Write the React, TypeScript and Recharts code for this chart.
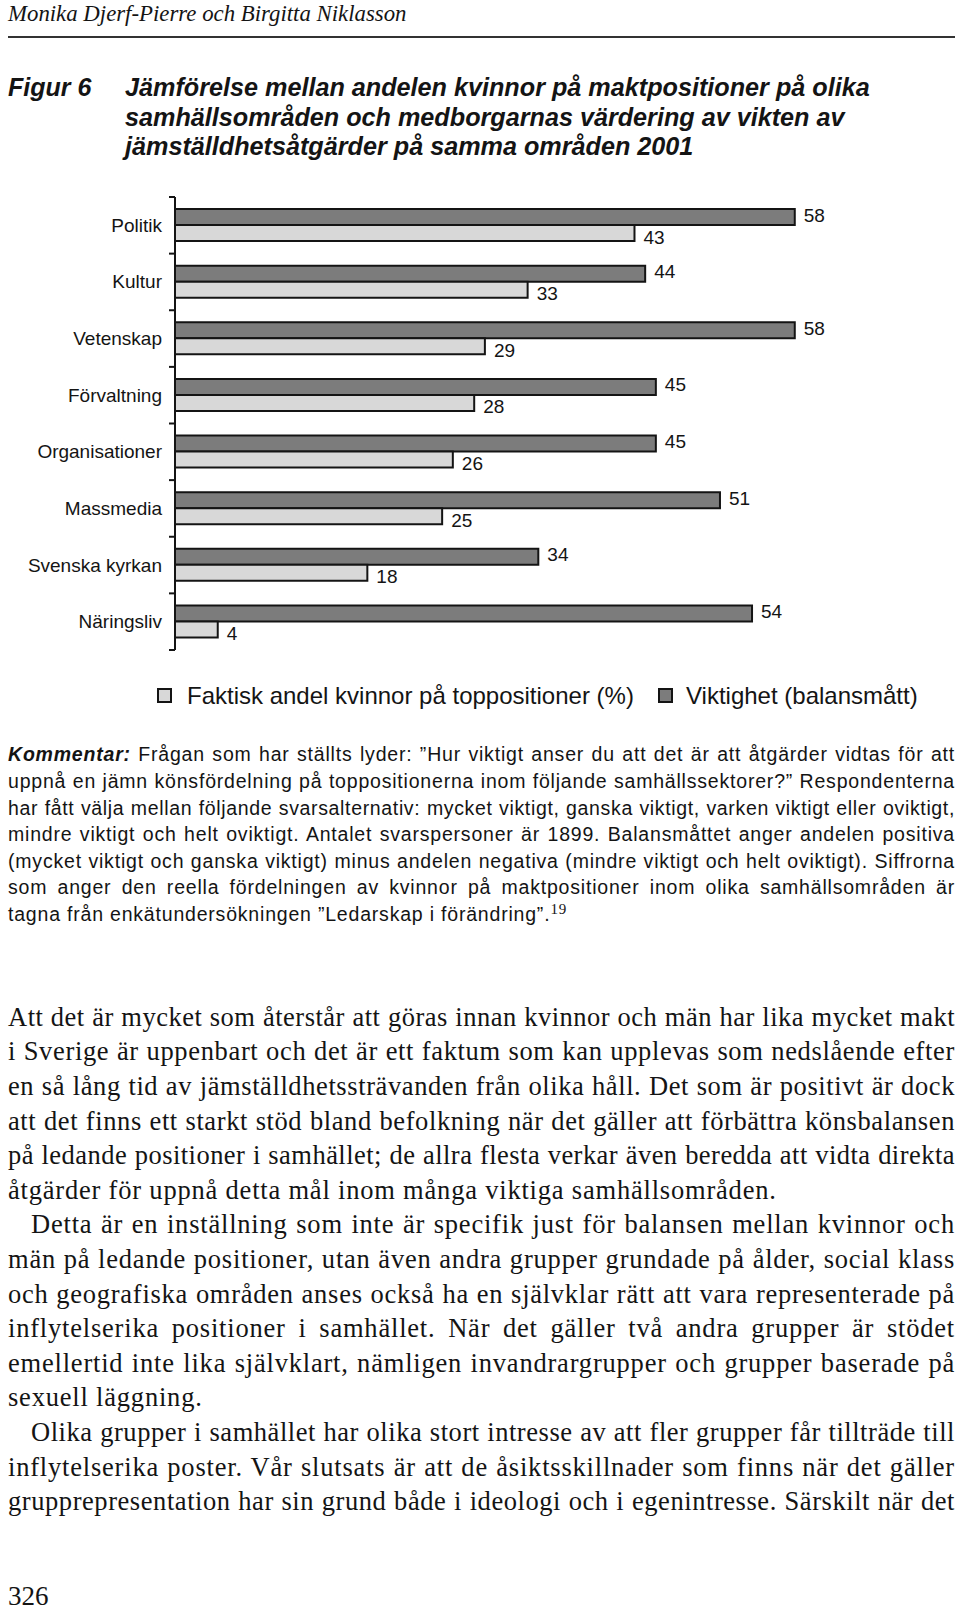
import React, { useLayoutEffect, useRef, useState } from "react";
import { BarChart, Bar, XAxis, YAxis, LabelList } from "recharts";

const categories = [
  "Politik",
  "Kultur",
  "Vetenskap",
  "Förvaltning",
  "Organisationer",
  "Massmedia",
  "Svenska kyrkan",
  "Näringsliv",
];
const faktiskAndel = [43, 33, 29, 28, 26, 25, 18, 4];
const viktighet = [58, 44, 58, 45, 45, 51, 34, 54];
const valueDomain = [0, 70];

const data = categories.map((name, i) => ({
  name,
  faktisk: faktiskAndel[i],
  viktighet: viktighet[i],
}));

const titleLines = [
  "Jämförelse mellan andelen kvinnor på maktpositioner på olika",
  "samhällsområden och medborgarnas värdering av vikten av",
  "jämställdhetsåtgärder på samma områden 2001",
];

const commentLines = [
  "Frågan som har ställts lyder: ”Hur viktigt anser du att det är att åtgärder vidtas för att",
  "uppnå en jämn könsfördelning på toppositionerna inom följande samhällssektorer?” Respondenterna",
  "har fått välja mellan följande svarsalternativ: mycket viktigt, ganska viktigt, varken viktigt eller oviktigt,",
  "mindre viktigt och helt oviktigt. Antalet svarspersoner är 1899. Balansmåttet anger andelen positiva",
  "(mycket viktigt och ganska viktigt) minus andelen negativa (mindre viktigt och helt oviktigt). Siffrorna",
  "som anger den reella fördelningen av kvinnor på maktpositioner inom olika samhällsområden är",
  "tagna från enkätundersökningen ”Ledarskap i förändring”.",
];

// [text, indent, justify]
const bodyLines: [string, boolean, boolean][] = [
  ["Att det är mycket som återstår att göras innan kvinnor och män har lika mycket makt", false, true],
  ["i Sverige är uppenbart och det är ett faktum som kan upplevas som nedslående efter", false, true],
  ["en så lång tid av jämställdhetssträvanden från olika håll. Det som är positivt är dock", false, true],
  ["att det finns ett starkt stöd bland befolkning när det gäller att förbättra könsbalansen", false, true],
  ["på ledande positioner i samhället; de allra flesta verkar även beredda att vidta direkta", false, true],
  ["åtgärder för uppnå detta mål inom många viktiga samhällsområden.", false, false],
  ["Detta är en inställning som inte är specifik just för balansen mellan kvinnor och", true, true],
  ["män på ledande positioner, utan även andra grupper grundade på ålder, social klass", false, true],
  ["och geografiska områden anses också ha en självklar rätt att vara representerade på", false, true],
  ["inflytelserika positioner i samhället. När det gäller två andra grupper är stödet", false, true],
  ["emellertid inte lika självklart, nämligen invandrargrupper och grupper baserade på", false, true],
  ["sexuell läggning.", false, false],
  ["Olika grupper i samhället har olika stort intresse av att fler grupper får tillträde till", true, true],
  ["inflytelserika poster. Vår slutsats är att de åsiktsskillnader som finns när det gäller", false, true],
  ["grupprepresentation har sin grund både i ideologi och i egenintresse. Särskilt när det", false, true],
];

const SANS = "'Liberation Sans', Arial, Helvetica, sans-serif";
const SERIF = "'Liberation Serif', 'Times New Roman', serif";
const INK = "#141414";
const DARK = "#7c7c7c";
const LIGHT = "#d8d8d8";

const AXIS_X = 175;
const PLOT_TOP = 4;
const PLOT_H = 453;
const BAND = PLOT_H / categories.length;

const CategoryTick = (props: any) => {
  const { y, payload, index } = props;
  const half = BAND / 2;
  const last = index === categories.length - 1;
  return (
    <g>
      <line x1={AXIS_X - 6} x2={AXIS_X} y1={y - half} y2={y - half} stroke={INK} strokeWidth={2} />
      {last && (
        <line x1={AXIS_X - 6} x2={AXIS_X} y1={y + half} y2={y + half} stroke={INK} strokeWidth={2} />
      )}
      <text
        x={AXIS_X - 13}
        y={y}
        textAnchor="end"
        dominantBaseline="central"
        fontFamily={SANS}
        fontSize={19}
        fill={INK}
      >
        {payload.value}
      </text>
    </g>
  );
};

const valueLabel = (dy: number) => (props: any) => {
  const { x, y, width, height, value } = props;
  return (
    <text
      x={x + width + 9}
      y={y + height / 2 + dy}
      dominantBaseline="central"
      fontFamily={SANS}
      fontSize={19}
      fill={INK}
    >
      {value}
    </text>
  );
};

const abs = (left: number, top: number): React.CSSProperties => ({
  position: "absolute",
  left,
  top,
});

// a justified line: letter spacing is tightened when the line would not fit
function TextLine(props: {
  left: number;
  top: number;
  width: number;
  justify: boolean;
  font: React.CSSProperties;
  spacing: number;
  children: React.ReactNode;
}) {
  const { left, top, width, justify, font, spacing, children } = props;
  const measure = useRef<HTMLSpanElement>(null);
  const [ls, setLs] = useState(spacing);
  useLayoutEffect(() => {
    const el = measure.current;
    if (!el) return;
    const w = el.getBoundingClientRect().width;
    const n = (el.textContent || "").length || 1;
    if (w > width - 2) setLs(spacing - (w - width + 6) / n);
  }, [width, spacing]);
  return (
    <>
      <span
        ref={measure}
        style={{
          ...abs(left, top),
          ...font,
          letterSpacing: spacing,
          whiteSpace: "nowrap",
          visibility: "hidden",
        }}
      >
        {children}
      </span>
      <div
        style={{
          ...abs(left, top),
          ...font,
          width,
          letterSpacing: ls,
          textAlign: justify ? "justify" : "left",
          textAlignLast: justify ? "justify" : "left",
        }}
      >
        {children}
      </div>
    </>
  );
}

export default function App() {
  const commentLH = 26.6;
  const bodyLH = 34.6;
  const commentFont: React.CSSProperties = {
    fontFamily: SANS,
    fontSize: 19.5,
    lineHeight: `${commentLH}px`,
  };
  const bodyFont: React.CSSProperties = {
    fontFamily: SERIF,
    fontSize: 26.5,
    lineHeight: `${bodyLH}px`,
  };
  return (
    <div
      style={{
        position: "absolute",
        left: 0,
        top: 0,
        width: 960,
        height: 1614,
        background: "#fff",
        color: INK,
        overflow: "hidden",
      }}
    >
      <div
        style={{
          ...abs(8, 2),
          fontFamily: SERIF,
          fontStyle: "italic",
          fontSize: 22.8,
          lineHeight: "24px",
        }}
      >
        Monika Djerf-Pierre och Birgitta Niklasson
      </div>
      <div style={{ ...abs(8, 36), width: 947, height: 2, background: "#333" }} />

      <div
        style={{
          ...abs(8, 73),
          fontFamily: SANS,
          fontStyle: "italic",
          fontWeight: 700,
          fontSize: 25,
          lineHeight: "29.5px",
        }}
      >
        Figur 6
      </div>
      <div
        style={{
          ...abs(125, 73),
          fontFamily: SANS,
          fontStyle: "italic",
          fontWeight: 700,
          fontSize: 25.2,
          lineHeight: "29.5px",
          whiteSpace: "nowrap",
        }}
      >
        {titleLines.map((t) => (
          <div key={t}>{t}</div>
        ))}
      </div>

      <div style={abs(0, 197 - PLOT_TOP)}>
        <BarChart
          width={AXIS_X + 748}
          height={PLOT_H + PLOT_TOP * 2}
          data={data}
          layout="vertical"
          barGap={0}
          margin={{ top: PLOT_TOP, right: 0, bottom: PLOT_TOP, left: 0 }}
        >
          <XAxis type="number" domain={valueDomain} hide />
          <YAxis
            type="category"
            dataKey="name"
            width={AXIS_X}
            axisLine={{ stroke: INK, strokeWidth: 2 }}
            tickLine={false}
            tick={<CategoryTick />}
            interval={0}
          />
          <Bar
            dataKey="viktighet"
            name="Viktighet (balansmått)"
            fill={DARK}
            stroke={INK}
            strokeWidth={2}
            barSize={16}
            isAnimationActive={false}
          >
            <LabelList dataKey="viktighet" content={valueLabel(-2)} />
          </Bar>
          <Bar
            dataKey="faktisk"
            name="Faktisk andel kvinnor på toppositioner (%)"
            fill={LIGHT}
            stroke={INK}
            strokeWidth={2}
            barSize={16}
            isAnimationActive={false}
          >
            <LabelList dataKey="faktisk" content={valueLabel(4)} />
          </Bar>
        </BarChart>
      </div>

      <div
        style={{
          ...abs(157, 688),
          width: 15,
          height: 15,
          boxSizing: "border-box",
          border: `2px solid ${INK}`,
          background: LIGHT,
        }}
      />
      <div style={{ ...abs(187, 681), fontFamily: SANS, fontSize: 24, lineHeight: "30px", whiteSpace: "nowrap" }}>
        Faktisk andel kvinnor på toppositioner (%)
      </div>
      <div
        style={{
          ...abs(658, 688),
          width: 15,
          height: 15,
          boxSizing: "border-box",
          border: `2px solid ${INK}`,
          background: DARK,
        }}
      />
      <div style={{ ...abs(686, 681), fontFamily: SANS, fontSize: 24, lineHeight: "30px", whiteSpace: "nowrap" }}>
        Viktighet (balansmått)
      </div>

      {commentLines.map((t, i) => {
        const last = i === commentLines.length - 1;
        return (
          <TextLine
            key={i}
            left={8}
            top={754.6 + i * commentLH - commentLH / 2}
            width={947}
            justify={!last}
            font={commentFont}
            spacing={0.8}
          >
            {i === 0 && (
              <b>
                <i>Kommentar:</i>
              </b>
            )}
            {i === 0 ? " " : ""}
            {t}
            {last && (
              <sup style={{ fontFamily: SERIF, fontSize: 15, verticalAlign: "7px", lineHeight: 0 }}>19</sup>
            )}
          </TextLine>
        );
      })}

      {bodyLines.map(([t, indent, justify], i) => (
        <TextLine
          key={i}
          left={indent ? 31 : 8}
          top={1017.1 + i * bodyLH - bodyLH / 2}
          width={indent ? 924 : 947}
          justify={justify}
          font={bodyFont}
          spacing={0.8}
        >
          {t}
        </TextLine>
      ))}

      <div style={{ ...abs(8, 1581), fontFamily: SERIF, fontSize: 27, lineHeight: "30px" }}>326</div>
    </div>
  );
}
